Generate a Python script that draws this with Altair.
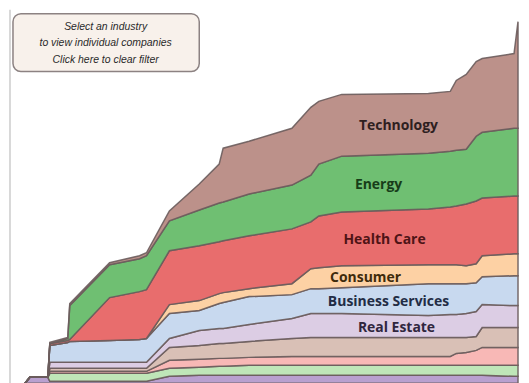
import altair as alt
import pandas as pd
import numpy as np

# time index (week number) of each observation
weeks = [25, 30, 48, 50, 68, 70, 110, 140, 147, 170, 200, 220, 224, 250, 293,
         312, 320, 343, 430, 452, 458, 468, 478, 484, 516, 520]

# amount per industry (stacked, bottom to top)
media = [0, 6, 6, 2, 2, 2, 2, 2, 2, 7, 8, 8, 8, 8, 8, 8, 8, 8, 8, 8, 8, 8, 8, 8, 7, 7]
transportation = [0, 0, 0, 8, 8, 8, 8, 8, 8, 8, 8, 9, 9, 10, 10, 10, 10, 10, 10, 10, 10, 10, 10, 10, 11, 11]
retail = [0, 0, 0, 2, 2, 2, 2, 2, 2, 8, 8, 8, 8, 8, 9, 9, 9, 9, 9, 9, 12, 13, 15, 18, 18, 18]
industrials = [0, 0, 0, 3, 3, 3, 3, 3, 3, 13, 14, 15, 15, 16, 18, 19, 19, 19, 19, 19, 16, 15, 14, 20, 20, 20]
real_estate = [0, 0, 0, 6, 6, 6, 6, 6, 6, 9, 15, 15, 15, 17, 20, 24, 24, 24, 22, 23, 23, 24, 25, 23, 22, 22]
business_services = [0, 0, 0, 17, 20, 21, 22, 23, 24, 25, 20, 25, 26, 28, 24, 25, 25, 26, 32, 31, 31, 30, 29, 28, 30, 30]
consumer = [0, 0, 0, 0, 0, 0, 0, 0, 0, 9, 10, 10, 10, 8, 11, 20, 21, 22, 19, 19, 19, 18, 19, 21, 22, 22]
health_care = [0, 0, 0, 2, 2, 2, 43, 48, 49, 54, 55, 52, 52, 53, 55, 47, 52, 54, 56, 58, 59, 62, 63, 58, 58, 58]
energy = [0, 0, 0, 0, 2, 34, 33, 33, 34, 30, 36, 39, 39, 42, 44, 47, 52, 56, 56, 56, 56, 55, 65, 66, 68, 68]
technology = [0, 0, 0, 1, 1, 2, 2, 3, 3, 10, 26, 39, 54, 53, 57, 68, 63, 62, 60, 60, 70, 75, 75, 74, 75, 107]

industries = ["Media", "Transportation", "Retail", "Industrials", "Real Estate",
              "Business Services", "Consumer", "Health Care", "Energy", "Technology"]
series = [media, transportation, retail, industrials, real_estate,
          business_services, consumer, health_care, energy, technology]
colors = ["#b9a0cf", "#bfe6b8", "#f8b8b6", "#d9c0b6", "#dccde4",
          "#c8d9ef", "#fdd1a4", "#e86d6d", "#6fbf72", "#bc918a"]

# labelled industries and the week where their label sits
label_names = ["Technology", "Energy", "Health Care", "Consumer", "Business Services", "Real Estate"]
label_weeks = [400, 380, 386, 367, 390, 398]
label_colors = ["#2e201f", "#173d19", "#4e1416", "#3e2b0c", "#222c45", "#30263e"]

hint_lines = ["Select an industry", "to view individual companies", "Click here to clear filter"]

rows = []
for rank, (name, vals) in enumerate(zip(industries, series)):
    for w, v in zip(weeks, vals):
        rows.append({"week": w, "industry": name, "amount": v, "rank": rank})
df = pd.DataFrame(rows)

cum = np.cumsum(np.array(series, dtype=float), axis=0)
lab_rows = []
for name, lw, lc in zip(label_names, label_weeks, label_colors):
    i = industries.index(name)
    upper = np.interp(lw, weeks, cum[i])
    lower = np.interp(lw, weeks, cum[i - 1]) if i > 0 else 0.0
    lab_rows.append({"week": lw, "mid": (upper + lower) / 2 - 2, "label": name, "col": lc})
labels = pd.DataFrame(lab_rows)

W, H = 513, 375
xs = alt.Scale(domain=[8, 521], nice=False, zero=False)
ys = alt.Scale(domain=[0, 375], nice=False)

areas = alt.Chart(df).mark_area(
    interpolate="linear", stroke="#6a5c5c", strokeWidth=1.5, strokeOpacity=0.9
).encode(
    x=alt.X("week:Q", scale=xs, axis=None),
    y=alt.Y("amount:Q", stack="zero", scale=ys, axis=None),
    color=alt.Color("industry:N", scale=alt.Scale(domain=industries, range=colors), legend=None),
    order=alt.Order("rank:Q", sort="ascending"),
)

text = alt.Chart(labels).mark_text(
    font="Open Sans", fontWeight="bold", fontSize=14, baseline="middle", align="center"
).encode(
    x=alt.X("week:Q", scale=xs, axis=None),
    y=alt.Y("mid:Q", scale=ys, axis=None),
    text="label:N",
    color=alt.Color("col:N", scale=None),
)

one = pd.DataFrame({"a": [0]})
frame = alt.Chart(one).mark_rule(color="#cccccc", strokeWidth=1.5).encode(
    x=alt.value(2), y=alt.value(0), y2=alt.value(H)
)
box = alt.Chart(one).mark_rect(
    cornerRadius=8, fill="#f8f1eb", stroke="#8c8282", strokeWidth=1.5
).encode(x=alt.value(5), x2=alt.value(192), y=alt.value(4), y2=alt.value(62))

hint_layers = []
for i, line in enumerate(hint_lines):
    hint_layers.append(
        alt.Chart(one).mark_text(
            font="Liberation Sans", fontStyle="italic", fontSize=10.5, color="#2a2a2a",
            align="center", baseline="middle"
        ).encode(x=alt.value(98), y=alt.value(17 + 16.5 * i), text=alt.value(line))
    )

chart = alt.layer(frame, areas, text, box, *hint_layers).properties(
    width=W, height=H, padding=0
).configure_view(stroke=None)

chart.save("out.html", embed_options={"renderer": "svg", "actions": False})
